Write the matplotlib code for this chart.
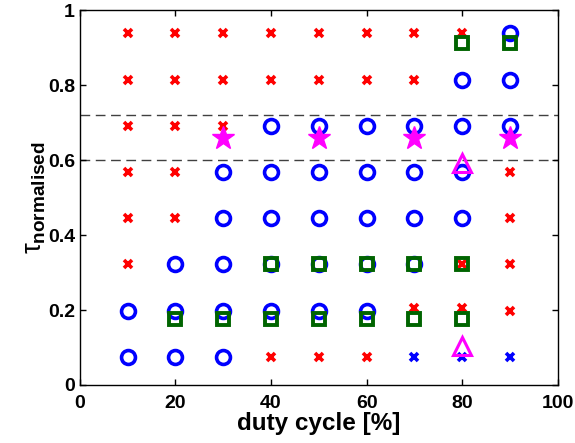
import matplotlib
matplotlib.use("Agg")
import matplotlib.pyplot as plt

plt.rcParams['font.family'] = ['Liberation Sans', 'DejaVu Sans']
plt.rcParams['font.weight'] = 'bold'
plt.rcParams['mathtext.fontset'] = 'custom'
plt.rcParams['mathtext.rm'] = 'Liberation Sans:bold'
plt.rcParams['mathtext.it'] = 'Liberation Sans:regular'

# rows of tau values used in the map
rows = [0.0755, 0.198, 0.322, 0.445, 0.567, 0.6915, 0.815, 0.938]

# red crosses
red_x = [10]*6 + [20]*5 + [30]*3 + [40]*3 + [50]*3 + [60]*3 + [70]*3 + [80]*3 + [90]*4
red_y = ([0.322, 0.445, 0.567, 0.6915, 0.815, 0.938]
         + [0.445, 0.567, 0.6915, 0.815, 0.938]
         + [0.6915, 0.815, 0.938]
         + [0.0755, 0.815, 0.938]
         + [0.0755, 0.815, 0.938]
         + [0.0755, 0.815, 0.938]
         + [0.205, 0.815, 0.938]
         + [0.205, 0.322, 0.938]
         + [0.198, 0.322, 0.445, 0.567])

# blue crosses
bluex_x = [70, 80, 90]
bluex_y = [0.0755, 0.0755, 0.0755]

# blue circles
circ_x = [10]*2 + [20]*3 + [30]*5 + [40]*5 + [50]*5 + [60]*5 + [70]*4 + [80]*4 + [90]*3
circ_y = ([0.0755, 0.198]
          + [0.0755, 0.198, 0.322]
          + [0.0755, 0.198, 0.322, 0.445, 0.567]
          + [0.198, 0.322, 0.445, 0.567, 0.6915]
          + [0.198, 0.322, 0.445, 0.567, 0.6915]
          + [0.198, 0.322, 0.445, 0.567, 0.6915]
          + [0.322, 0.445, 0.567, 0.6915]
          + [0.445, 0.567, 0.6915, 0.815]
          + [0.6915, 0.815, 0.938])

# green squares
sq_x = [20, 30, 40, 50, 60, 70, 80, 40, 50, 60, 70, 80, 80, 90]
sq_y = [0.176]*7 + [0.322]*5 + [0.913, 0.913]

# magenta stars
star_x = [30, 50, 70, 90]
star_y = [0.658, 0.658, 0.658, 0.658]

# magenta triangles
tri_x = [80, 80]
tri_y = [0.593, 0.104]

# threshold lines
thresholds = [0.6, 0.72]

fig = plt.figure(figsize=(5.75, 4.43), dpi=100)
ax = fig.add_axes([0.139, 0.131, 0.831, 0.846])

for t in thresholds:
    ax.axhline(t, color='#404040', lw=1, ls=(0, (7, 4)), zorder=1)

ax.plot(red_x, red_y, 'x', color='red', ms=6, mew=2.6, zorder=2)
ax.plot(bluex_x, bluex_y, 'x', color='blue', ms=6, mew=2.6, zorder=2)
ax.plot(circ_x, circ_y, 'o', mfc='none', mec='blue', ms=10, mew=2.6, zorder=3)
ax.plot(sq_x, sq_y, 's', mfc='none', mec='#006400', ms=8, mew=2.8, zorder=4)
ax.plot(star_x, star_y, '*', color='magenta', ms=17, mew=1, zorder=5)
ax.plot(tri_x, tri_y, '^', mfc='none', mec='magenta', ms=13, mew=2.2, zorder=5)

ax.set_xlim(0, 100)
ax.set_ylim(0, 1)
ax.set_xticks([0, 20, 40, 60, 80, 100])
ax.set_yticks([0, 0.2, 0.4, 0.6, 0.8, 1])
ax.set_yticklabels(['0', '0.2', '0.4', '0.6', '0.8', '1'])
ax.tick_params(direction='in', top=True, right=True, length=4, width=1,
               labelsize=14)
ax.tick_params(axis='x', pad=7)
for s in ax.spines.values():
    s.set_linewidth(1)

ax.set_xlabel('duty cycle [%]', fontsize=17.5, fontweight='bold', labelpad=0)
ax.set_ylabel(r'$\mathit{\tau}_{\mathrm{normalised}}$', fontsize=19.5, labelpad=0)

fig.savefig('out.png', dpi=100)
